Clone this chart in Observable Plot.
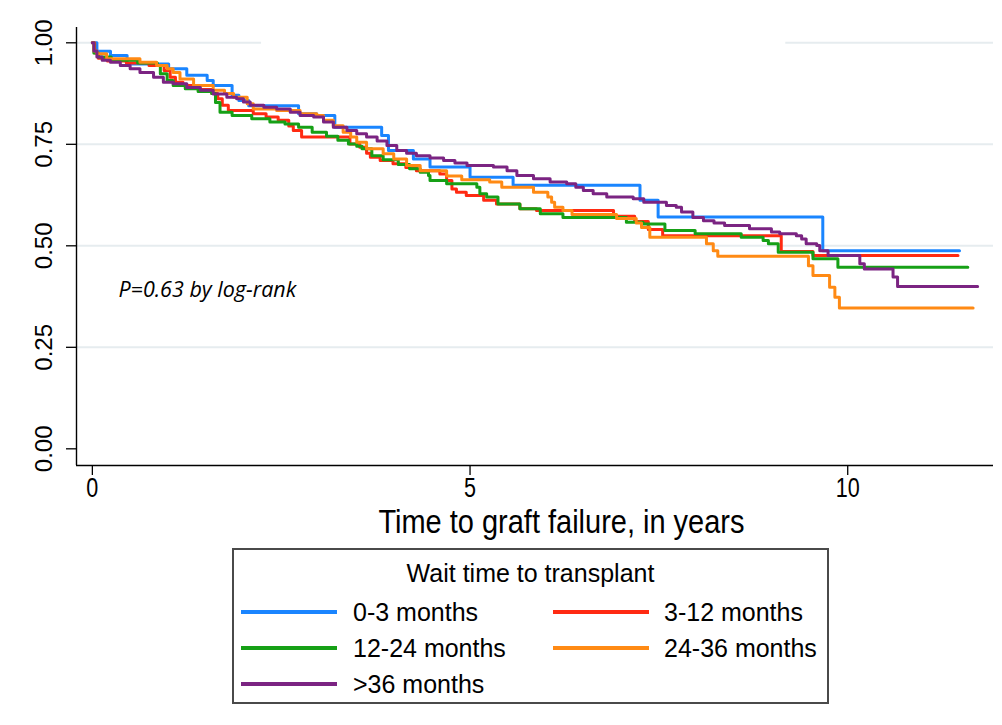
<!DOCTYPE html>
<html>
<head>
<meta charset="utf-8">
<script src="https://cdn.jsdelivr.net/npm/d3@7"></script>
<script src="https://cdn.jsdelivr.net/npm/@observablehq/plot@0.6"></script>
<style>
  html, body { margin: 0; padding: 0; background: #fff; }
  #wrap { position: relative; width: 1002px; height: 725px; font-family: "Liberation Sans", Arial, sans-serif; }
  #legend { position: absolute; left: 232px; top: 548px; width: 597px; height: 156px; box-sizing: border-box; border: 2px solid #4a4a4a; background: #fff; }
  #legend .title { position: absolute; left: 0; width: 100%; top: 8px; text-align: center; font-size: 25px; line-height: 30px; color: #000; }
  #legend .sw { position: absolute; width: 96px; height: 4px; }
  #legend .lab { position: absolute; font-size: 25px; line-height: 30px; color: #000; white-space: nowrap; }
</style>
</head>
<body>
<div id="wrap"></div>
<script>
// ---- data ----
const groups = ["0-3 months", "3-12 months", "12-24 months", "24-36 months", ">36 months"];
const colors = ["#1a85ff", "#ff2a12", "#16a016", "#ff8a14", "#7b2482"];
const legendTitle = "Wait time to transplant";
const xTitle = "Time to graft failure, in years";
const pText = "P=0.63 by log-rank";
const xTicks = [0, 5, 10];
const yTicks = [0, 0.25, 0.5, 0.75, 1];
const gridValues = [0.25, 0.5, 0.75];
const topGridX1 = [-0.21, 9.18];
const topGridX2 = [2.24, 11.93];

const blueT = [0, 0.06, 0.24, 0.46, 1.01, 1.25, 1.52, 1.60, 1.85, 1.94, 2.07, 2.73, 2.97, 3.21, 3.83, 3.92, 4.25, 4.47, 5.00, 5.57, 7.25, 7.49, 9.67, 11.48];
const blueS = [1.0, 0.979, 0.969, 0.948, 0.936, 0.920, 0.907, 0.895, 0.871, 0.858, 0.845, 0.825, 0.821, 0.792, 0.772, 0.735, 0.714, 0.694, 0.669, 0.649, 0.612, 0.571, 0.488, 0.488];

const redT = [0, 0.03, 0.08, 0.2, 0.45, 0.75, 0.95, 1.03, 1.10, 1.20, 1.40, 1.58, 1.66, 1.72, 1.80, 2.13, 2.30, 2.46, 2.60, 2.66, 2.77, 3.41, 3.54, 3.63, 3.68, 3.81, 3.98, 4.15, 4.29, 4.60, 4.69, 4.76, 4.82, 4.95, 5.18, 5.35, 5.66, 5.88, 6.90, 7.18, 7.36, 7.55, 9.12, 9.54, 11.46];
const redS = [1.0, 0.975, 0.962, 0.955, 0.950, 0.944, 0.932, 0.915, 0.903, 0.895, 0.885, 0.875, 0.862, 0.846, 0.833, 0.825, 0.817, 0.809, 0.795, 0.784, 0.768, 0.751, 0.743, 0.728, 0.718, 0.710, 0.702, 0.693, 0.685, 0.677, 0.661, 0.640, 0.632, 0.624, 0.612, 0.603, 0.591, 0.587, 0.573, 0.560, 0.540, 0.525, 0.486, 0.476, 0.476];

const greenT = [0, 0.02, 0.08, 0.25, 0.6, 0.86, 0.90, 0.99, 1.07, 1.23, 1.40, 1.58, 1.63, 1.69, 1.85, 2.11, 2.35, 2.55, 2.73, 2.91, 3.10, 3.25, 3.39, 3.50, 3.57, 3.70, 3.85, 4.05, 4.20, 4.34, 4.45, 4.47, 4.69, 5.09, 5.13, 5.22, 5.37, 5.66, 5.93, 6.23, 7.07, 7.29, 7.58, 7.98, 8.59, 8.88, 8.95, 9.08, 9.54, 9.87, 11.59];
const greenS = [1.0, 0.975, 0.965, 0.957, 0.950, 0.944, 0.924, 0.907, 0.895, 0.887, 0.880, 0.875, 0.853, 0.829, 0.821, 0.813, 0.805, 0.800, 0.792, 0.780, 0.770, 0.760, 0.751, 0.745, 0.739, 0.722, 0.712, 0.700, 0.690, 0.681, 0.673, 0.661, 0.653, 0.644, 0.628, 0.620, 0.603, 0.591, 0.579, 0.570, 0.558, 0.554, 0.538, 0.530, 0.521, 0.513, 0.505, 0.484, 0.468, 0.447, 0.447];

const orangeT = [0, 0.02, 0.06, 0.19, 0.63, 0.85, 0.99, 1.07, 1.16, 1.34, 1.60, 1.75, 1.87, 2.05, 2.13, 2.44, 2.75, 2.97, 3.06, 3.19, 3.32, 3.42, 3.50, 3.63, 3.85, 3.99, 4.16, 4.34, 4.69, 4.89, 5.26, 5.42, 5.84, 6.03, 6.08, 6.12, 6.23, 6.35, 6.94, 7.20, 7.27, 7.38, 8.13, 8.22, 8.28, 9.48, 9.54, 9.76, 9.83, 9.89, 11.66];
const orangeS = [1.0, 0.980, 0.973, 0.961, 0.952, 0.944, 0.936, 0.927, 0.911, 0.895, 0.883, 0.875, 0.866, 0.850, 0.837, 0.833, 0.825, 0.821, 0.809, 0.796, 0.780, 0.768, 0.755, 0.739, 0.727, 0.714, 0.698, 0.685, 0.672, 0.663, 0.657, 0.644, 0.632, 0.620, 0.607, 0.595, 0.587, 0.577, 0.567, 0.556, 0.545, 0.521, 0.505, 0.488, 0.474, 0.451, 0.427, 0.398, 0.373, 0.347, 0.347];

const purpleT = [0, 0.02, 0.06, 0.13, 0.24, 0.37, 0.50, 0.63, 0.81, 0.94, 1.07, 1.25, 1.43, 1.60, 1.78, 1.91, 2.0, 2.09, 2.27, 2.44, 2.62, 2.75, 2.93, 3.06, 3.19, 3.37, 3.50, 3.63, 3.77, 3.90, 4.03, 4.16, 4.29, 4.47, 4.65, 4.80, 4.96, 5.31, 5.49, 5.62, 5.84, 6.06, 6.28, 6.40, 6.50, 6.63, 6.81, 7.16, 7.30, 7.60, 7.73, 7.80, 7.95, 8.09, 8.23, 8.37, 8.70, 8.99, 9.10, 9.32, 9.39, 9.45, 9.59, 9.63, 9.74, 10.16, 10.22, 10.60, 10.66, 11.72];
const purpleS = [1.0, 0.980, 0.965, 0.957, 0.952, 0.944, 0.936, 0.927, 0.915, 0.903, 0.899, 0.890, 0.883, 0.874, 0.866, 0.862, 0.854, 0.846, 0.841, 0.837, 0.829, 0.821, 0.817, 0.805, 0.792, 0.784, 0.776, 0.768, 0.758, 0.747, 0.735, 0.728, 0.722, 0.716, 0.710, 0.704, 0.698, 0.694, 0.685, 0.673, 0.665, 0.657, 0.653, 0.644, 0.636, 0.628, 0.620, 0.616, 0.607, 0.599, 0.595, 0.583, 0.570, 0.562, 0.556, 0.550, 0.542, 0.534, 0.530, 0.525, 0.517, 0.505, 0.501, 0.488, 0.476, 0.456, 0.443, 0.423, 0.400, 0.400];

// ---- build table ----
const seriesT = [blueT, redT, greenT, orangeT, purpleT];
const seriesS = [blueS, redS, greenS, orangeS, purpleS];
const curves = [];
groups.forEach((g, i) => seriesT[i].forEach((t, j) => curves.push({group: g, t, s: seriesS[i][j]})));
const topGrid = topGridX1.map((x1, i) => ({x1, x2: topGridX2[i]}));

const xDomain = [-0.21, 11.93];
const yDomain = [-0.0411, 1.0377];

const chart = Plot.plot({
  width: 1002,
  height: 545,
  marginLeft: 76,
  marginRight: 9,
  marginTop: 27,
  marginBottom: 80,
  style: {fontFamily: "Liberation Sans, Arial, sans-serif", background: "#fff", color: "#000"},
  x: {domain: xDomain},
  y: {domain: yDomain},
  color: {domain: groups, range: colors},
  marks: [
    Plot.ruleY(gridValues, {stroke: "#e6ecef", strokeWidth: 2}),
    Plot.ruleY(topGrid, {y: 1, x1: "x1", x2: "x2", stroke: "#e6ecef", strokeWidth: 2}),
    Plot.ruleX([xDomain[0]], {stroke: "#000", strokeWidth: 1.4}),
    Plot.ruleY([yDomain[0]], {stroke: "#000", strokeWidth: 1.4}),
    Plot.axisX({ticks: xTicks, tickSize: 10, label: null, tickFormat: () => "", strokeWidth: 1.3}),
    Plot.axisY({ticks: yTicks, tickSize: 10, label: null, tickFormat: () => "", strokeWidth: 1.3}),
    Plot.text(xTicks, {x: d => d, frameAnchor: "bottom", dy: 31, text: d => String(d), fontSize: 27,
      className: "xticklab"}),
    Plot.text(yTicks, {x: xDomain[0], y: d => d, text: d => d.toFixed(2), rotate: -90, dx: -32, fontSize: 24}),
    Plot.text([xTitle], {x: 6.21, frameAnchor: "bottom", dy: 67, fontSize: 33, className: "xtitle"}),
    Plot.text([pText], {x: 0.345, y: 0.39, textAnchor: "start", fontStyle: "italic",
      fontFamily: "Open Sans, sans-serif", fontSize: 21.5, fill: "#000"}),
    Plot.line(curves, {x: "t", y: "s", z: "group", stroke: "group", curve: "step-after", strokeWidth: 3})
  ]
});

// condense the x-axis texts horizontally, as in the original (narrow face)
chart.querySelectorAll(".xtitle text").forEach(t => {
  t.setAttribute("textLength", "366");
  t.setAttribute("lengthAdjust", "spacingAndGlyphs");
});
chart.querySelectorAll(".xticklab text").forEach(t => {
  const n = t.textContent.length;
  t.setAttribute("textLength", String(n * 12));
  t.setAttribute("lengthAdjust", "spacingAndGlyphs");
});

const wrap = document.getElementById("wrap");
wrap.appendChild(chart);

// ---- legend (HTML, below the svg) ----
const legend = document.createElement("div");
legend.id = "legend";
const title = document.createElement("div");
title.className = "title";
title.textContent = legendTitle;
legend.appendChild(title);
const colSw = [7, 319];
const colLab = [119, 430];
const rowMid = [62, 98, 134];
groups.forEach((g, i) => {
  const c = i % 2, r = Math.floor(i / 2);
  const sw = document.createElement("div");
  sw.className = "sw";
  sw.style.left = colSw[c] + "px";
  sw.style.top = (rowMid[r] - 2) + "px";
  sw.style.background = colors[i];
  legend.appendChild(sw);
  const lab = document.createElement("div");
  lab.className = "lab";
  lab.style.left = colLab[c] + "px";
  lab.style.top = (rowMid[r] - 15) + "px";
  lab.textContent = g;
  legend.appendChild(lab);
});
wrap.appendChild(legend);
</script>
</body>
</html>
